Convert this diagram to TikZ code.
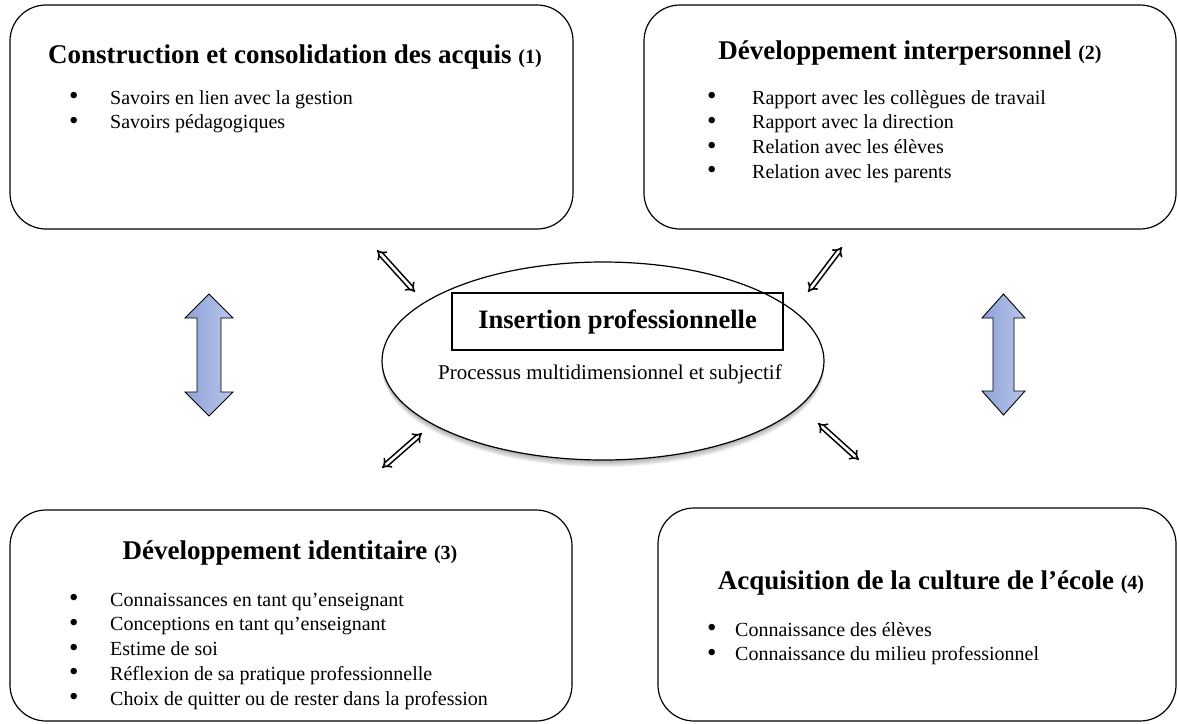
\documentclass[tikz,border=0pt]{standalone}
\usepackage{fontspec}
\setmainfont{Liberation Serif}
\usetikzlibrary{arrows.meta,shapes.geometric}
\definecolor{blueA}{HTML}{8EA2D7}
\definecolor{blueB}{HTML}{B9C6EB}
\newcommand{\itembul}[1]{\makebox[#1][l]{\raisebox{-0.5pt}{\scalebox{1.35}{\textbullet}}}}
\begin{document}
\begin{tikzpicture}[x=1pt,y=-1pt,
  panel/.style={draw=black, line width=1.2pt, rounded corners=36pt},
  ttl/.style={anchor=base, inner sep=0pt, font=\fontsize{27}{30}\selectfont\bfseries},
  item/.style={anchor=base west, inner sep=0pt, font=\fontsize{20}{24}\selectfont},
  link/.style={double, double distance=2.6pt, line width=1.6pt, {Implies[]}-{Implies[]}},
  block/.style={draw=black, line width=0.9pt, left color=blueA, right color=blueB},
]
\useasboundingbox (0,0) rectangle (1178,723);

% four thematic panels
\draw[panel] (10,5) rectangle (573,229);
\draw[panel] (644,5) rectangle (1176,229);
\draw[panel] (10,510) rectangle (572,721);
\draw[panel] (658,508) rectangle (1176,721);

% panel titles
\node[ttl] (t1) at (295,63) {Construction et consolidation des acquis {\fontsize{20}{24}\selectfont(1)}};
\node[ttl] (t2) at (910,59) {Développement interpersonnel {\fontsize{20}{24}\selectfont(2)}};
\node[ttl] (t3) at (290,559) {Développement identitaire {\fontsize{20}{24}\selectfont(3)}};
\node[ttl] (t4) at (931,589) {Acquisition de la culture de l’école {\fontsize{20}{24}\selectfont(4)}};

% bulleted items
\foreach \txt [count=\i] in {{Savoirs en lien avec la gestion},{Savoirs pédagogiques}}
  \node[item] (a\i) at (69,{104+(\i-1)*24.8}) {\itembul{41pt}\txt};
\foreach \txt [count=\i] in {{Rapport avec les collègues de travail},{Rapport avec la direction},{Relation avec les élèves},{Relation avec les parents}}
  \node[item] (b\i) at (707,{104+(\i-1)*24.8}) {\itembul{45pt}\txt};
\foreach \txt [count=\i] in {{Connaissances en tant qu’enseignant},{Conceptions en tant qu’enseignant},{Estime de soi},{Réflexion de sa pratique professionnelle},{Choix de quitter ou de rester dans la profession}}
  \node[item] (c\i) at (69,{606+(\i-1)*24.8}) {\itembul{41pt}\txt};
\foreach \txt [count=\i] in {{Connaissance des élèves},{Connaissance du milieu professionnel}}
  \node[item] (d\i) at (707,{636+(\i-1)*24.8}) {\itembul{28pt}\txt};

% central ellipse with a soft shadow
\foreach \s in {1,...,7}
  \fill[black, opacity=0.05] (603,{361+\s}) ellipse [x radius=221, y radius=99];
\node[draw=black, fill=white, line width=1.2pt, ellipse, minimum width=442, minimum height=198, inner sep=0pt] (core) at (603,361) {};
\node[draw=black, line width=1.2pt, minimum width=331, minimum height=57, inner sep=0pt,
      font=\fontsize{26.5}{30}\selectfont\bfseries] (ins) at (617.5,321.5) {Insertion professionnelle};
\node[anchor=base, inner sep=0pt, font=\fontsize{21}{25}\selectfont] (proc) at (610,379) {Processus multidimensionnel et subjectif};

% double-line arrows around the ellipse
\coordinate (p1a) at (377,250); \coordinate (p1b) at (415,292);
\coordinate (p2a) at (808,292); \coordinate (p2b) at (842,247);
\coordinate (p3a) at (382,468); \coordinate (p3b) at (422,433);
\coordinate (p4a) at (818,423); \coordinate (p4b) at (859,460);
\draw[link] (p1a) -- (p1b);
\draw[link] (p2a) -- (p2b);
\draw[link] (p3a) -- (p3b);
\draw[link] (p4a) -- (p4b);

% vertical block arrows
\draw[block] (209,294) -- (233,318) -- (221,318) -- (221,392) -- (233,392) -- (209,416)
  -- (185,392) -- (197,392) -- (197,318) -- (185,318) -- cycle;
\draw[block] (1003.5,294) -- (1025,318) -- (1014,318) -- (1014,391) -- (1025,391) -- (1003.5,415)
  -- (982,391) -- (993,391) -- (993,318) -- (982,318) -- cycle;
\end{tikzpicture}
\end{document}
